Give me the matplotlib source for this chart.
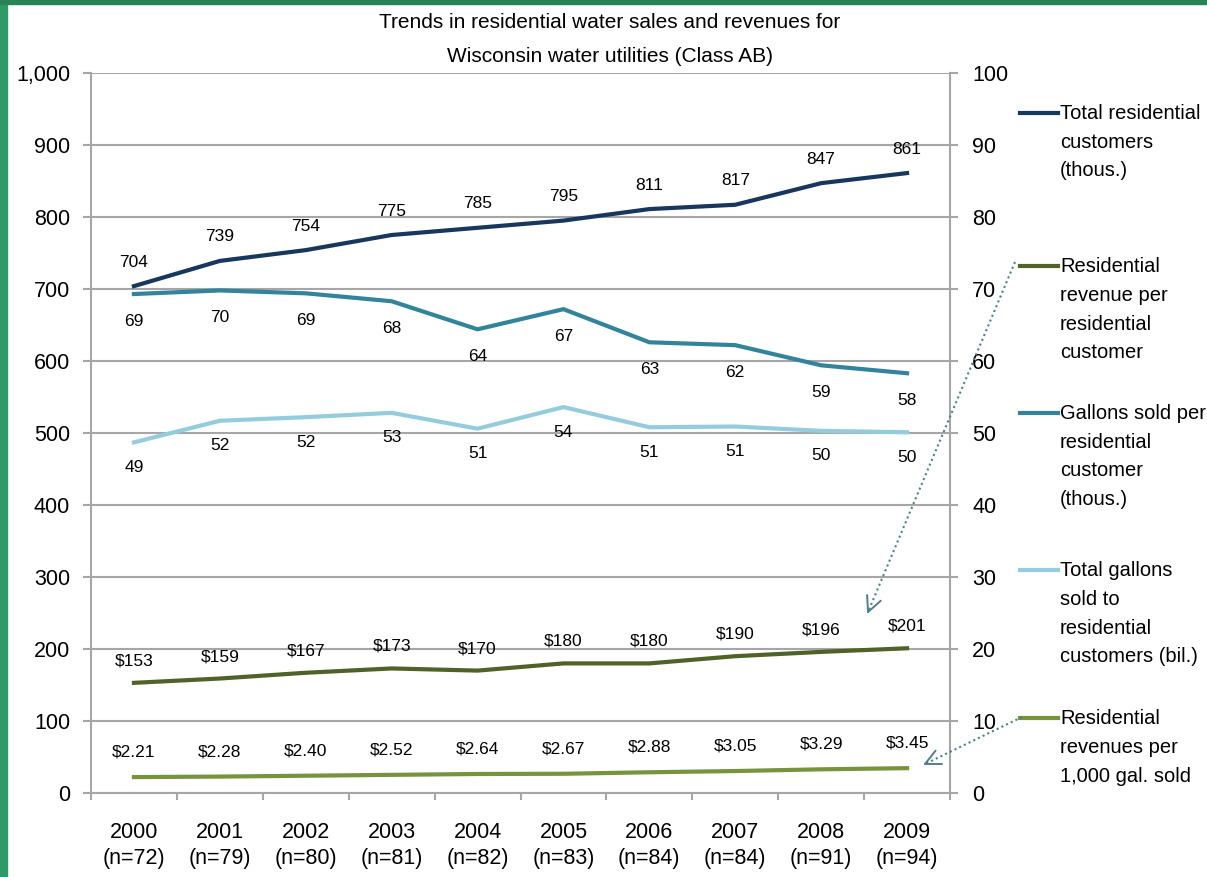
import matplotlib
matplotlib.use('Agg')

import matplotlib.pyplot as plt
import numpy as np
from matplotlib.lines import Line2D
from matplotlib.patches import Rectangle

plt.rcParams['font.family'] = ['Liberation Sans', 'DejaVu Sans']

# data
years = ['2000', '2001', '2002', '2003', '2004', '2005', '2006', '2007', '2008', '2009']
n_utils = [72, 79, 80, 81, 82, 83, 84, 84, 91, 94]
customers = [704, 739, 754, 775, 785, 795, 811, 817, 847, 861]            # thous., left axis
rev_per_cust = [153, 159, 167, 173, 170, 180, 180, 190, 196, 201]          # $, left axis
gal_per_cust = [69.3, 69.8, 69.4, 68.3, 64.4, 67.2, 62.6, 62.2, 59.4, 58.3]  # thous., right axis
total_gal = [48.7, 51.7, 52.2, 52.8, 50.6, 53.6, 50.8, 50.9, 50.3, 50.1]     # bil., right axis
rev_per_kgal = [2.21, 2.28, 2.40, 2.52, 2.64, 2.67, 2.88, 3.05, 3.29, 3.45]  # $, right axis

title_lines = ['Trends in residential water sales and revenues for',
               'Wisconsin water utilities (Class AB)']
legend_labels = [
    'Total residential\ncustomers\n(thous.)',
    'Residential\nrevenue per\nresidential\ncustomer',
    'Gallons sold per\nresidential\ncustomer\n(thous.)',
    'Total gallons\nsold to\nresidential\ncustomers (bil.)',
    'Residential\nrevenues per\n1,000 gal. sold',
]

C_CUST = '#17375E'
C_GPC = '#31849B'
C_TOT = '#93CDDD'
C_RPC = '#4F6228'
C_RPK = '#77933C'
GRID = '#A6A6A6'
ARROW = '#4F8088'

W, H = 1207, 877
fig = plt.figure(figsize=(W / 100, H / 100), dpi=100)


def fxy(x, y):
    # pixel position (from top-left) -> figure fraction
    return x / W, 1 - y / H


# slide frame
fig.add_artist(Rectangle((0, 0), 7 / W, 1, transform=fig.transFigure, color='#2E9A68', zorder=0))
fig.add_artist(Rectangle((0, 1 - 4 / H), 1, 4 / H, transform=fig.transFigure, color='#268456', zorder=0))

ax = fig.add_axes([91 / W, 1 - 793 / H, (950 - 91) / W, (793 - 73) / H])
ax2 = ax.twinx()

x = np.arange(len(years)) + 0.5
lw = 3

ax.plot(x, customers, color=C_CUST, lw=lw, zorder=3)
ax.plot(x, rev_per_cust, color=C_RPC, lw=lw, zorder=3)
ax2.plot(x, gal_per_cust, color=C_GPC, lw=lw, zorder=3)
ax2.plot(x, total_gal, color=C_TOT, lw=lw, zorder=3)
ax2.plot(x, rev_per_kgal, color=C_RPK, lw=lw, zorder=3)

lab_fs = 12.5
for xi, v in zip(x, customers):
    ax.annotate(f'{v}', (xi, v), xytext=(0, 24), textcoords='offset pixels',
                ha='center', va='center', fontsize=lab_fs)
for xi, v in zip(x, rev_per_cust):
    ax.annotate(f'${v}', (xi, v), xytext=(0, 22), textcoords='offset pixels',
                ha='center', va='center', fontsize=lab_fs)
for xi, v in zip(x, gal_per_cust):
    ax2.annotate(f'{v:.0f}', (xi, v), xytext=(0, -27), textcoords='offset pixels',
                 ha='center', va='center', fontsize=lab_fs)
for xi, v in zip(x, total_gal):
    ax2.annotate(f'{v:.0f}', (xi, v), xytext=(0, -25), textcoords='offset pixels',
                 ha='center', va='center', fontsize=lab_fs)
for xi, v in zip(x, rev_per_kgal):
    ax2.annotate(f'${v:.2f}', (xi, v), xytext=(0, 25), textcoords='offset pixels',
                 ha='center', va='center', fontsize=lab_fs)

# axes styling
ax.set_xlim(0, len(years))
ax.set_ylim(0, 1000)
ax2.set_ylim(0, 100)
ax.set_yticks(np.arange(0, 1001, 100))
ax.set_yticklabels([f'{v:,}' for v in range(0, 1001, 100)])
ax2.set_yticks(np.arange(0, 101, 10))

ax.set_xticks(np.arange(0, len(years) + 1))
ax.set_xticklabels([])
ax.set_xticks(x, minor=True)
ax.set_xticklabels([f'{y}\n(n={n})' for y, n in zip(years, n_utils)], minor=True)

tick_fs = 15.5
ax.tick_params(axis='y', direction='out', length=6, width=1.5, color=GRID, labelsize=tick_fs, pad=9)
ax2.tick_params(axis='y', direction='out', length=6, width=1.5, color=GRID, labelsize=tick_fs, pad=10)
ax.tick_params(axis='x', which='major', direction='out', length=5, width=1.5, color=GRID)
ax.tick_params(axis='x', which='minor', length=0, labelsize=tick_fs, pad=21)
for t in ax.get_xticklabels(minor=True):
    t.set_linespacing(1.3)

ax.grid(axis='y', color=GRID, lw=1.5, zorder=0)
ax.set_axisbelow(True)
for a in (ax, ax2):
    a.spines['top'].set_visible(False)
    for s in ('left', 'right', 'bottom'):
        a.spines[s].set_color(GRID)
        a.spines[s].set_linewidth(1.5)
ax.spines['right'].set_visible(False)
ax2.spines['left'].set_visible(False)
ax2.spines['bottom'].set_visible(False)

# title, one text per line so the gap matches
for line, ty in zip(title_lines, [22, 56]):
    fig.text(*fxy(610, ty), line, ha='center', va='center', fontsize=15)

# legend, drawn by hand
leg_colors = [C_CUST, C_RPC, C_GPC, C_TOT, C_RPK]
leg_y = [113, 266, 413, 570, 718]
for lbl, col, ly in zip(legend_labels, leg_colors, leg_y):
    x0, y0 = fxy(1020, ly)
    x1, _ = fxy(1058, ly)
    fig.add_artist(Line2D([x0, x1], [y0, y0], transform=fig.transFigure, color=col, lw=lw))
    fig.text(*fxy(1060, ly - 9), lbl, ha='left', va='top', fontsize=14.5, linespacing=1.65)

# dotted pointer arrows from legend to lines, with open V heads
for (sx, sy), (tx, ty) in [((1015, 262), (868, 612)), ((1022, 717), (925, 764))]:
    fig.add_artist(Line2D([sx / W, tx / W], [1 - sy / H, 1 - ty / H], transform=fig.transFigure,
                          color=ARROW, lw=1.5, ls=(0, (1, 1.5))))
    ang = np.arctan2(sy - ty, sx - tx)
    for da in (-0.45, 0.45):
        wx = tx + 17 * np.cos(ang + da)
        wy = ty + 17 * np.sin(ang + da)
        fig.add_artist(Line2D([tx / W, wx / W], [1 - ty / H, 1 - wy / H], transform=fig.transFigure,
                              color=ARROW, lw=1.4, solid_capstyle='round'))

fig.savefig('out.png', dpi=100)
